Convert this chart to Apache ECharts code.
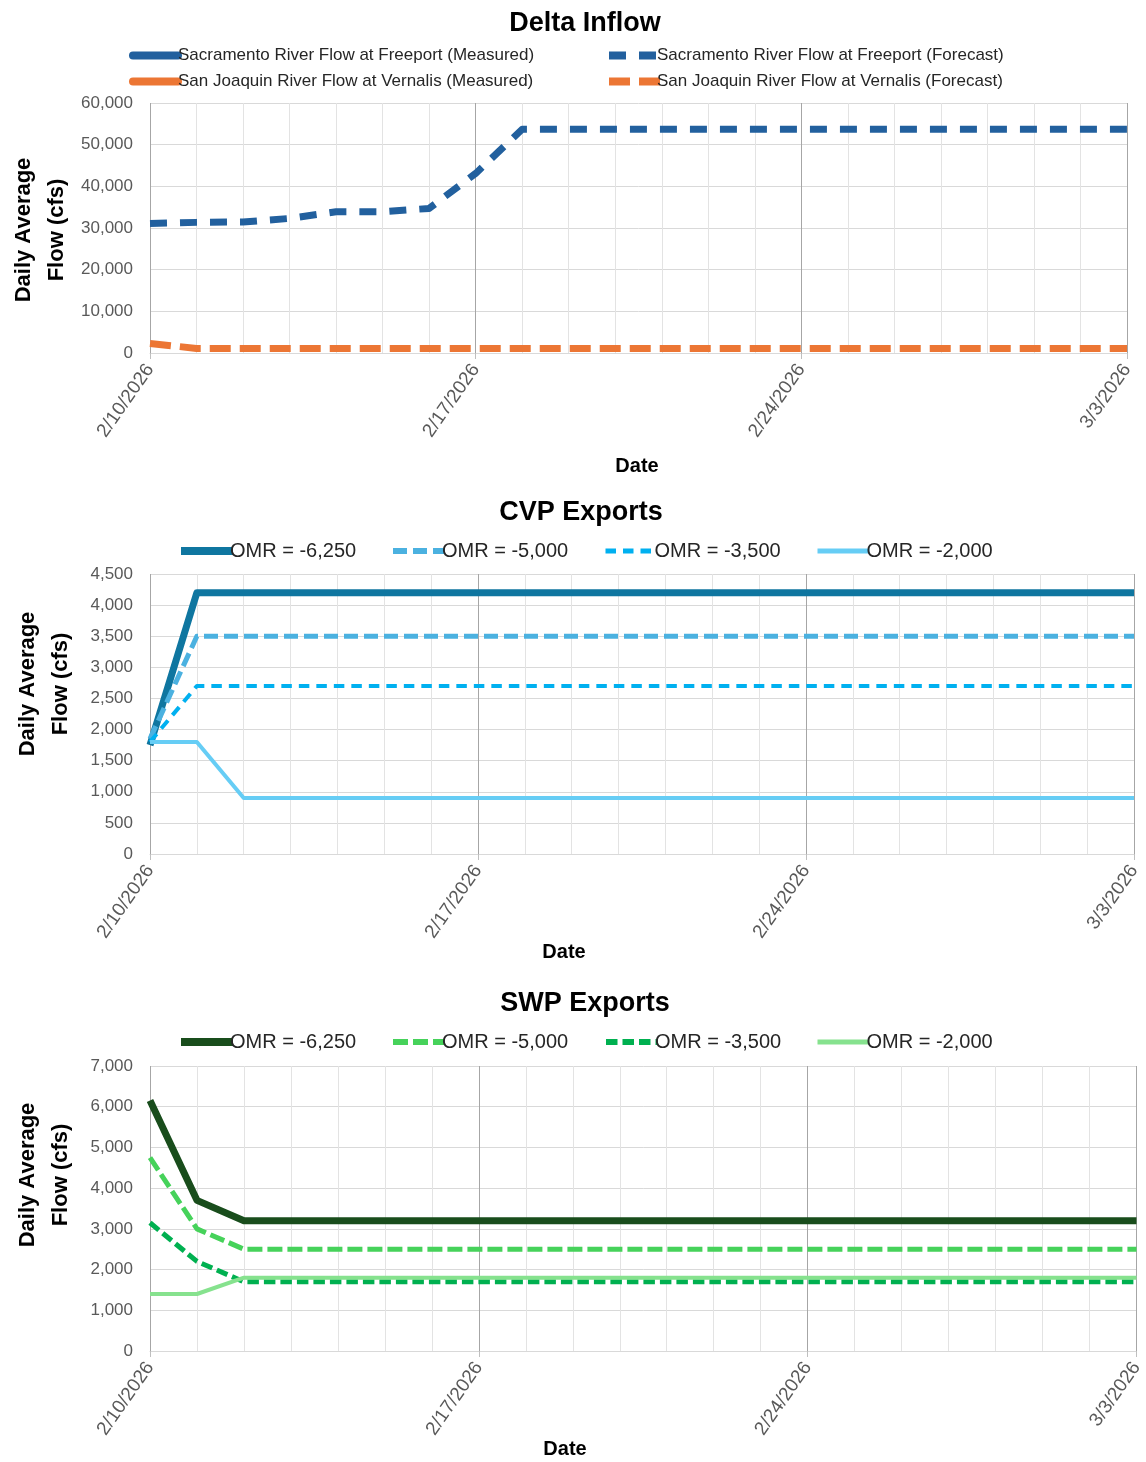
<!DOCTYPE html>
<html><head><meta charset="utf-8">
<script src="https://cdn.jsdelivr.net/npm/echarts@6/dist/echarts.min.js"></script>
<style>html,body{margin:0;padding:0;background:#fff}#c{width:1146px;height:1462px}</style>
</head><body><div id="c"></div>
<script>
// ---- data ----
const dates = ['2/10/2026','2/11/2026','2/12/2026','2/13/2026','2/14/2026','2/15/2026','2/16/2026','2/17/2026','2/18/2026','2/19/2026','2/20/2026','2/21/2026','2/22/2026','2/23/2026','2/24/2026','2/25/2026','2/26/2026','2/27/2026','2/28/2026','3/1/2026','3/2/2026','3/3/2026'];

const sacMeasured = [31100];
const sacForecast = [31100,31350,31450,32300,33900,33900,34700,43100,53700,53700,53700,53700,53700,53700,53700,53700,53700,53700,53700,53700,53700,53700];
const sjMeasured = [2300];
const sjForecast = [2300,1100,1100,1100,1100,1100,1100,1100,1100,1100,1100,1100,1100,1100,1100,1100,1100,1100,1100,1100,1100,1100];

const cvp6250 = [1750,4200,4200,4200,4200,4200,4200,4200,4200,4200,4200,4200,4200,4200,4200,4200,4200,4200,4200,4200,4200,4200];
const cvp5000 = [1850,3500,3500,3500,3500,3500,3500,3500,3500,3500,3500,3500,3500,3500,3500,3500,3500,3500,3500,3500,3500,3500];
const cvp3500 = [1800,2700,2700,2700,2700,2700,2700,2700,2700,2700,2700,2700,2700,2700,2700,2700,2700,2700,2700,2700,2700,2700];
const cvp2000 = [1800,1800,900,900,900,900,900,900,900,900,900,900,900,900,900,900,900,900,900,900,900,900];

const swp6250 = [6150,3700,3200,3200,3200,3200,3200,3200,3200,3200,3200,3200,3200,3200,3200,3200,3200,3200,3200,3200,3200,3200];
const swp5000 = [4750,3000,2500,2500,2500,2500,2500,2500,2500,2500,2500,2500,2500,2500,2500,2500,2500,2500,2500,2500,2500,2500];
const swp3500 = [3150,2200,1700,1700,1700,1700,1700,1700,1700,1700,1700,1700,1700,1700,1700,1700,1700,1700,1700,1700,1700,1700];
const swp2000 = [1400,1400,1800,1800,1800,1800,1800,1800,1800,1800,1800,1800,1800,1800,1800,1800,1800,1800,1800,1800,1800,1800];

const chartTitles = ['Delta Inflow','CVP Exports','SWP Exports'];
const yAxisMax = [60000, 4500, 7000];
const yAxisStep = [10000, 500, 1000];
const yTitle = 'Daily Average\nFlow (cfs)';
const xTitle = 'Date';

// ---- layout / style ----
const FF = '"Liberation Sans", Arial, sans-serif';
const grids = [
  {left:150, top:103, width:977, height:250},
  {left:150, top:574, width:984, height:280},
  {left:150, top:1066, width:990, height:285}
];

const xAxes = [], yAxes = [];
grids.forEach((g,i)=>{
  xAxes.push({type:'category', gridIndex:i, position:'bottom', data:dates, boundaryGap:false,
    axisLine:{show:false}, axisTick:{show:false}, axisLabel:{show:false},
    splitLine:{show:true, interval:0, lineStyle:{color:'#e3e3e3', width:1}}});
  xAxes.push({type:'category', gridIndex:i, position:'bottom', offset:0, data:dates, boundaryGap:false,
    axisLine:{show:true, lineStyle:{color:'#d9d9d9', width:1}},
    axisTick:{show:true, interval:6, length:6, lineStyle:{color:'#bfbfbf'}},
    axisLabel:{interval:6, rotate:55, fontSize:19, color:'#595959', fontFamily:FF, margin:13},
    splitLine:{show:true, interval:6, lineStyle:{color:'#a6a6a6', width:1}}});
  yAxes.push({type:'value', gridIndex:i, min:0, max:yAxisMax[i], interval:yAxisStep[i],
    axisLine:{show:false}, axisTick:{show:false},
    axisLabel:{fontSize:17, color:'#595959', fontFamily:FF, margin:17,
      formatter:v=>v.toLocaleString('en-US')},
    splitLine:{lineStyle:{color:'#d9d9d9', width:1}}});
});

function ln(name, data, g, color, width, type, cap){
  return {name, type:'line', data, xAxisIndex:2*g+1, yAxisIndex:g,
    symbol:'none', showSymbol:false, silent:true, animation:false,
    itemStyle:{color}, lineStyle:{color, width, type, cap:cap||'butt', join:'round'},
    emphasis:{disabled:true}};
}

const series = [
  ln('Sacramento River Flow at Freeport (Measured)', sacMeasured, 0, '#22609e', 7, 'solid', 'round'),
  ln('Sacramento River Flow at Freeport (Forecast)', sacForecast, 0, '#22609e', 7, [17,13]),
  ln('San Joaquin River Flow at Vernalis (Measured)', sjMeasured, 0, '#ec7634', 7, 'solid', 'round'),
  ln('San Joaquin River Flow at Vernalis (Forecast)', sjForecast, 0, '#ec7634', 7, [21,9]),
  ln('CVP OMR = -6,250', cvp6250, 1, '#0f76a0', 7, 'solid'),
  ln('CVP OMR = -5,000', cvp5000, 1, '#4bb1e0', 5, [14,6]),
  ln('CVP OMR = -3,500', cvp3500, 1, '#00b0f0', 4, [10.5,7]),
  ln('CVP OMR = -2,000', cvp2000, 1, '#66cdf5', 4, 'solid'),
  ln('SWP OMR = -6,250', swp6250, 2, '#194d1c', 7, 'solid'),
  ln('SWP OMR = -5,000', swp5000, 2, '#46d25a', 5, [15,5]),
  ln('SWP OMR = -3,500', swp3500, 2, '#00b050', 5, [11.5,5]),
  ln('SWP OMR = -2,000', swp2000, 2, '#86e28e', 4, 'solid')
];

function lg(s, label, left, cy, fs, iw, pad){
  const w = s.lineStyle.width;
  return {data:[s.name], left, top:cy-7, itemWidth:iw, itemHeight:14, itemGap:0,
    selectedMode:false, padding:0,
    itemStyle:{opacity:0},
    lineStyle:{width:w+1, type:s.lineStyle.type, cap:s.lineStyle.cap, color:s.lineStyle.color},
    textStyle:{fontSize:fs, color:'#262626', fontFamily:FF, padding:[0,0,0,pad]},
    formatter:()=>label};
}
const legends = [
  lg(series[0], 'Sacramento River Flow at Freeport (Measured)', 129, 54, 17, 45, -5),
  lg(series[1], 'Sacramento River Flow at Freeport (Forecast)', 605, 54, 17, 52, -9),
  lg(series[2], 'San Joaquin River Flow at Vernalis (Measured)', 129, 80, 17, 45, -5),
  lg(series[3], 'San Joaquin River Flow at Vernalis (Forecast)', 605, 80, 17, 52, -9),
];
const legX = [177, 390, 603, 815];
const omrLabels = ['OMR = -6,250','OMR = -5,000','OMR = -3,500','OMR = -2,000'];
[548, 1039].forEach((cy, k)=>{
  for (let j=0;j<4;j++) legends.push(lg(series[4+4*k+j], omrLabels[j], legX[j], cy, 20, 52, -8));
});

const titlePos = [[585,24],[581,513],[585,1004]];
const yTitlePos = [[40,230],[44,684],[44,1175]];
const xTitlePos = [[637,466],[564,952],[565,1449]];
const graphic = [];
for (let i=0;i<3;i++){
  graphic.push({type:'text', x:titlePos[i][0], y:titlePos[i][1], silent:true,
    style:{text:chartTitles[i], fontSize:27, fontWeight:'bold', fontFamily:FF, fill:'#000', align:'center', verticalAlign:'middle'}});
  graphic.push({type:'text', x:yTitlePos[i][0], y:yTitlePos[i][1], rotation:Math.PI/2, silent:true,
    style:{text:yTitle, fontSize:22, fontWeight:'bold', fontFamily:FF, fill:'#000', align:'center', verticalAlign:'middle', lineHeight:33}});
  graphic.push({type:'text', x:xTitlePos[i][0], y:xTitlePos[i][1], silent:true,
    style:{text:xTitle, fontSize:20, fontWeight:'bold', fontFamily:FF, fill:'#000', align:'center', verticalAlign:'middle'}});
}

const chart = echarts.init(document.getElementById('c'), null, {renderer:'canvas'});
chart.setOption({
  animation:false,
  backgroundColor:'#fff',
  grid: grids,
  xAxis: xAxes,
  yAxis: yAxes,
  legend: legends,
  series,
  graphic
});
</script>
</body></html>
